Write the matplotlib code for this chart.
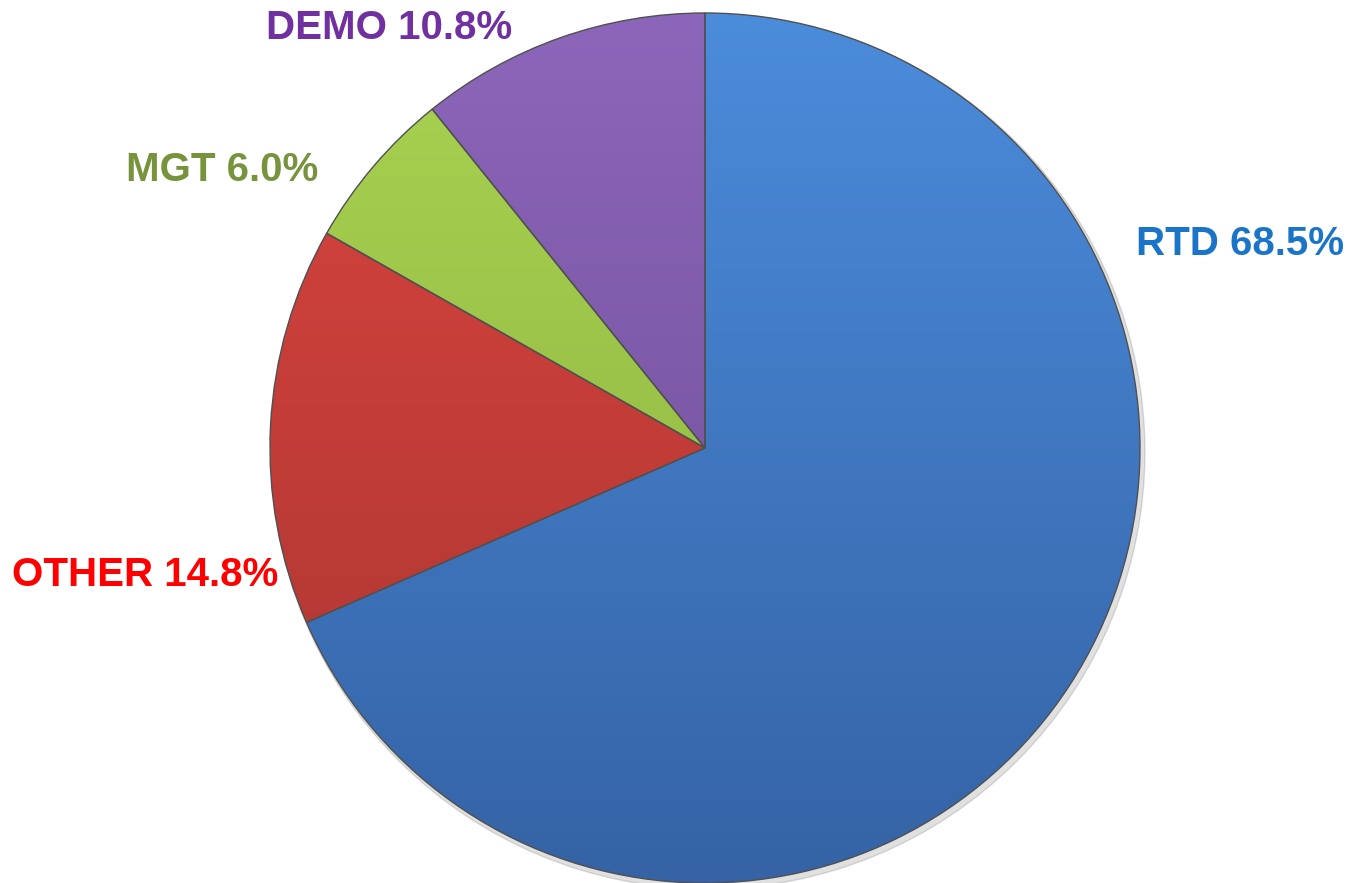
import numpy as np
import matplotlib.pyplot as plt
from matplotlib.colors import LinearSegmentedColormap

# Share of activity by category
categories = ['RTD', 'OTHER', 'MGT', 'DEMO']
shares = [68.5, 14.8, 6.0, 10.8]

# wedge gradient (top, bottom) and label colours
wedge_top = ['#4b8cdb', '#db453f', '#a9d351', '#8c66ba']
wedge_bottom = ['#3563a5', '#a83431', '#8aae3f', '#6c4b94']
label_colors = ['#1a75c9', '#ff0000', '#77933c', '#7030a0']
label_pos = [(1240, 244), (145, 575), (222, 170), (389, 28)]

W, H = 1352, 883
cx, cy, r = 705, 448, 435

fig = plt.figure(figsize=(W / 100, H / 100), dpi=100)
ax = fig.add_axes([0, 0, 1, 1])

# soft shadow behind the pie
shadow = plt.Circle((cx + 3, cy + 4), r + 2, color='#000000', alpha=0.12, zorder=0)
ax.add_patch(shadow)

# y axis is flipped (pixel coords), so counterclock in data = clockwise on screen
wedges, _ = ax.pie(shares, startangle=-90, counterclock=True,
                   center=(cx, cy), radius=r, frame=True,
                   wedgeprops=dict(linewidth=1.0, edgecolor='#505050'))

grad = np.linspace(0, 1, 256).reshape(-1, 1)
for w, top, bot in zip(wedges, wedge_top, wedge_bottom):
    w.set_facecolor('none')
    w.set_zorder(3)
    cmap = LinearSegmentedColormap.from_list('g', [top, bot])
    im = ax.imshow(grad, cmap=cmap, extent=(cx - r, cx + r, cy + r, cy - r),
                   aspect='auto', zorder=2)
    im.set_clip_path(w)

ax.set_xlim(0, W)
ax.set_ylim(H, 0)
ax.set_aspect('equal')
ax.axis('off')

for name, val, col, (x, y) in zip(categories, shares, label_colors, label_pos):
    ax.text(x, y, f'{name} {val:.1f}%', color=col, fontsize=29,
            fontweight='bold', family='Liberation Sans',
            ha='center', va='center')

fig.savefig('out.png', dpi=100)
